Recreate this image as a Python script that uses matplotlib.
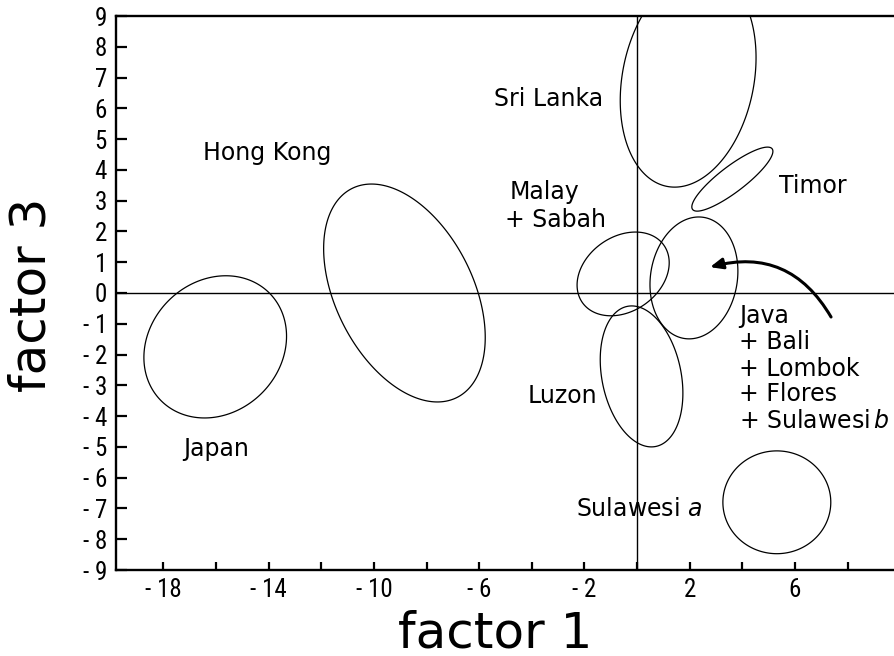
import numpy as np
import matplotlib
matplotlib.use("Agg")
import matplotlib.pyplot as plt
from matplotlib import font_manager
from matplotlib.patches import Polygon

# ---- data: confidence ellipses on factor 1 (x) vs factor 3 (y) ----
groups = ["Japan", "Hong Kong", "Sri Lanka", "Timor", "Malay + Sabah",
          "Java + Bali + Lombok + Flores + Sulawesi b", "Luzon", "Sulawesi a"]
center_x = [-16.03, -8.84, 1.94, 3.62, -0.53, 2.16, 0.17, 5.31]
center_y = [-1.75, 0.0, 6.95, 3.70, 0.62, 0.49, -2.71, -6.80]
radius_x = [2.71, 3.07, 2.58, 1.54, 1.75, 1.67, 1.57, 2.05]
radius_y = [2.31, 3.54, 3.51, 1.04, 1.36, 1.98, 2.29, 1.67]
tilt = [0.15, -0.42, 0.20, 1.05, 0.27, 0.11, -0.24, 0.0]

x_ticks = list(range(-18, 10, 2))
x_labeled = [-18, -14, -10, -6, -2, 2, 6]
y_ticks = list(range(-9, 10))

arrow_from = (7.37, -0.78)
arrow_to = (2.77, 0.84)

# ---- pick a narrow font for tick labels if one is installed ----
_fonts = font_manager.fontManager.ttflist
_names = {f.name for f in _fonts}
tick_font = "Roboto"
for cand in ["Liberation Sans Narrow", "Roboto Condensed", "Open Sans Condensed"]:
    if cand in _names:
        tick_font = cand
        break
tick_stretch = "normal"
if tick_font == "Roboto" and any(f.name == "DejaVu Sans" and f.stretch == "condensed" for f in _fonts):
    tick_font = "DejaVu Sans"
    tick_stretch = "condensed"

# ---- figure ----
fig = plt.figure(figsize=(8.95, 6.56), dpi=100)
ax = fig.add_axes([116 / 895, 86 / 656, 779 / 895, 554 / 656])
ax.set_xlim(-19.8, 9.8)
ax.set_ylim(-9, 9)

t = np.linspace(0, 2 * np.pi, 400, endpoint=False)
for cx, cy, rx, ry, ph in zip(center_x, center_y, radius_x, radius_y, tilt):
    pts = np.column_stack([cx + rx * np.cos(t), cy + ry * np.sin(t + ph)])
    ax.add_patch(Polygon(pts, closed=True, fill=False, edgecolor="black", lw=0.9))

ax.axhline(0, color="black", lw=1.0)
ax.axvline(0, color="black", lw=1.0)

for s in ["left", "bottom", "top"]:
    ax.spines[s].set_linewidth(1.7)
ax.spines["right"].set_visible(False)


def fmt(v):
    return f"- {abs(v)}" if v < 0 else f"{v}"


ax.set_xticks(x_ticks)
ax.set_xticklabels([fmt(v) if v in x_labeled else "" for v in x_ticks],
                   family=[tick_font, "DejaVu Sans"], fontstretch=tick_stretch,
                   fontsize=18)
ax.set_yticks(y_ticks)
ax.set_yticklabels([fmt(v) for v in y_ticks], family=[tick_font, "DejaVu Sans"],
                   fontstretch=tick_stretch, fontsize=18)
ax.tick_params(axis="y", direction="in", length=8, width=1.6, pad=6.5)
ax.tick_params(axis="x", direction="in", length=6, width=1.6, pad=6)

lab = dict(fontsize=17, color="black", va="center")
ax.text(-16.49, 4.55, "Hong Kong", ha="left", **lab)
ax.text(-5.43, 6.30, "Sri Lanka", ha="left", **lab)
ax.text(-2.20, 3.28, "Malay", ha="right", **lab)
ax.text(-1.17, 2.37, "+ Sabah", ha="right", **lab)
ax.text(5.40, 3.47, "Timor", ha="left", **lab)
java_lines = ["Java", "+ Bali", "+ Lombok", "+ Flores", r"+ Sulawesi$\,\mathbf{\mathit{b}}$"]
java_y = [-0.75, -1.59, -2.47, -3.28, -4.16]
for s, yy in zip(java_lines, java_y):
    ax.text(3.88, yy, s, ha="left", **lab)
ax.text(-1.52, -3.34, "Luzon", ha="right", **lab)
ax.text(-17.25, -5.06, "Japan", ha="left", **lab)
ax.text(-2.32, -7.01, r"Sulawesi $\mathit{a}$", ha="left", **lab)

ax.annotate("", xy=arrow_to, xytext=arrow_from,
            arrowprops=dict(arrowstyle="-|>,head_length=0.75,head_width=0.32",
                            color="black", lw=2.2,
                            connectionstyle="arc3,rad=0.38",
                            shrinkA=0, shrinkB=0))

fig.text(32 / 895, (656 - 295) / 656, "factor 3", rotation=90,
         ha="center", va="center", fontsize=36)
fig.text(495 / 895, (656 - 633) / 656, "factor 1",
         ha="center", va="center", fontsize=36)

fig.savefig("out.png", dpi=100)
